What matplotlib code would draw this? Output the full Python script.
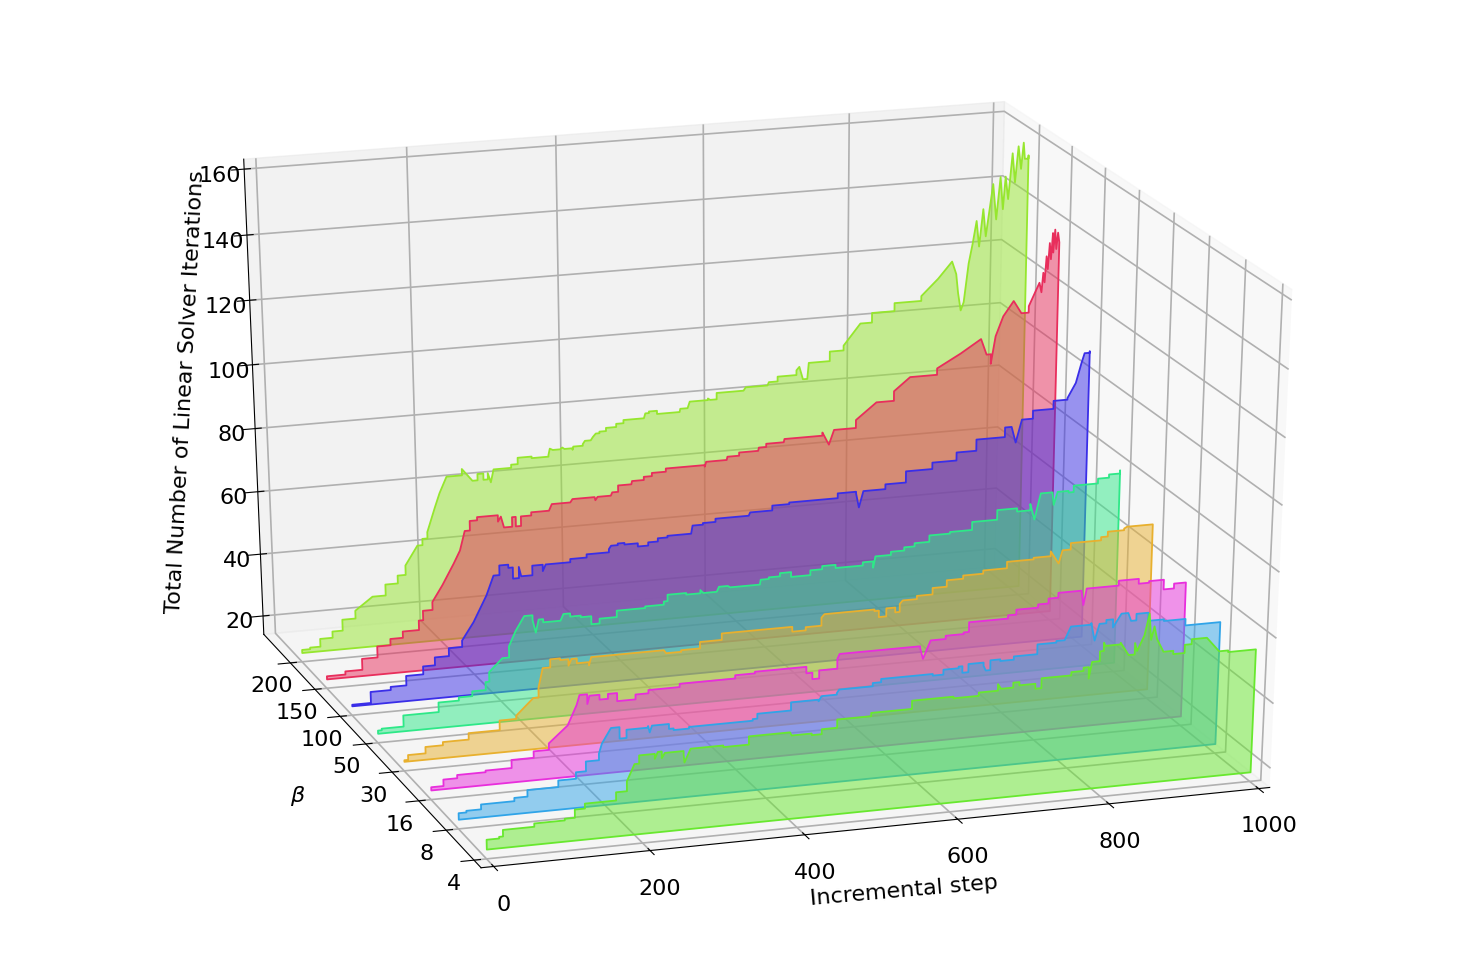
import numpy as np
import matplotlib
matplotlib.use("Agg")
import matplotlib.pyplot as plt
from matplotlib.collections import PolyCollection
from matplotlib.colors import to_rgba

beta_labels = ['4', '8', '16', '30', '50', '100', '150', '200']
colors = ['#68E82E', '#30A4E8', '#E82EDC', '#E8B02E', '#2EE888', '#3A2EE8', '#E82E5C', '#96E62E']

x_b4 = [0,16,21,61,100,113,126,153,166,180,190,196,216,220,225,229,253,254,262,304,337,390,392,418,431,451,495,548,602,635,660,664,680,688,709,717,756,772,779,783,793,798,800,820,831,839,842,851,857,860,864,868,877,890,905,914,934,951,963,1000]
z_b4 = [20,20.5,22.5,23.5,24,26.5,28,28,30.5,33.5,38.5,41,39.5,41.5,39.5,41,40,37.5,41.5,41,43.5,43.5,42.5,42,43.5,46,47,49.5,49,50,52,50.5,52,51,49.5,52.5,53.5,54.5,51,56,59,61.5,60.5,61,57,60.5,58,62.5,69,61,65,61,57,56,58.5,60,60,55.5,55,54]

x_b8 = [0,10,29,72,89,129,152,165,182,186,198,209,218,246,248,251,273,279,299,382,388,415,432,468,472,492,495,539,550,618,632,652,657,665,685,688,694,707,725,756,781,792,800,827,832,838,847,856,867,876,880,887,903,924,953,970,1000]
z_b8 = [19,19.5,21,22,24,26,28,31,33,36,40.5,37,39.5,40,38,40,38.5,38,38.5,39,40.5,40.5,43,42.5,44,44.5,45.5,46.5,47.5,47,48.5,49,47,49.5,48.5,47,50,49.5,50.5,53.5,54,54,58,58.5,53,58,59,56.5,60.5,60.5,58,60,57.5,57,55,55,54.5]

x_b16 = [0,16,34,71,105,134,154,179,191,195,205,208,221,232,244,255,268,285,326,385,399,425,472,493,501,510,534,537,644,648,658,678,702,709,761,772,801,815,828,859,862,866,909,925,936,950,962,970,984,1000]
z_b16 = [18,20,21,21.5,24,26,28,33,39,42,39,41.5,40,41.5,39,39,40.5,41.5,42.5,42.5,43.5,44,44,42,40,42.5,45.5,47,46.5,43,48.5,49.5,50,53,54,55.5,56.5,58,59.5,59.5,55,60,61.5,61.5,60,60.5,60.5,57.5,59,58]

x_b30 = [0,5,28,51,85,126,148,171,178,184,194,207,218,222,229,245,248,275,344,347,367,392,421,505,515,533,554,558,625,631,641,653,659,663,682,703,722,744,771,803,839,862,873,878,889,906,930,939,961,965,1000]
z_b30 = [17.5,19,21,22,24,27,28,33,36,42,44.5,44,42,44,42.5,41.5,44,44,44,43,43.5,45.5,47.5,47.5,46,47,49.5,50.5,50,48,50.5,49,51.5,52.5,53.5,55.5,57.5,58.5,59.5,61.5,62,63.5,59.5,63.5,65.5,65.5,66.5,68,68.5,69,68]

x_b50 = [0,5,34,74,81,108,126,144,149,167,176,185,197,208,212,216,222,245,249,258,272,286,297,320,358,383,388,413,432,436,454,457,469,472,512,513,524,539,554,580,596,614,651,665,668,689,707,721,741,769,799,819,833,860,878,884,892,908,910,915,930,937,970,985,1000]
z_b50 = [18,18.5,22,22,25,26,27.5,30,33,37,40.5,45,49.5,48,44,48,47,47,49,48,47.5,45,46.5,48.5,49,50,52,51.5,52.5,51.5,51.5,53,53,52.5,52.5,54,54.5,55.5,54,55.5,56.5,55.5,56.5,54.5,58,59,60,61,63,63.5,66,66,69,68,70,65,73,73,69,73,72.5,74.5,76,77,78]

x_b100 = [0,25,52,73,96,112,131,149,165,183,193,201,213,219,227,230,245,259,263,296,318,348,351,360,369,387,401,414,427,459,461,475,492,537,539,569,592,658,683,687,693,723,751,787,820,847,886,895,901,909,924,952,971,982,989,993,1000]
z_b100 = [17.5,21,22,25,27.5,30,32.5,34.5,40,48,54,57,56,52.5,56,53,56,54,56,57,58,59,60,60.5,60,59,60,61,61.5,61.5,64,64.5,65.5,65.5,66.5,68,68.5,70,69.5,65,70,71.5,75,77,79.5,83,86,86,81,88,90.5,93,93.5,98,104,107,107.5]

x_b150 = [0,25,48,69,87,104,126,132,145,159,175,184,191,198,208,230,236,240,244,255,260,267,281,305,309,334,337,367,368,371,389,391,399,417,418,434,445,464,517,519,547,548,564,590,591,601,625,626,641,678,687,694,724,752,776,798,835,867,895,903,909,915,925,939,950,960,974,977,979,981,983,985,987,989,991,992,994,996,998,1000]
z_b150 = [18,19,22.5,26,28,30,33,36,38.5,43.5,50,54,60,63,64,64,62,63.5,60,63,60,63,64,64,66,66,67,67,66,67,67,68,70,70,71,72,73,74,73.5,75,75,76,77,77,78,79,79,80,80,81,77,81.5,84,89,92,96,98,102,106,101,98,106.5,112.5,117,113,115,122,119,125,122,130,126,134,129,137,131,138,132,137,134]

x_b200 = [0,11,25,42,56,74,98,116,133,144,161,168,175,186,193,203,224,238,245,253,259,263,267,291,300,319,342,344,348,358,361,364,375,376,389,392,400,403,407,412,421,435,445,473,475,480,491,522,523,533,536,550,561,564,573,610,613,643,645,657,683,687,692,698,700,729,748,771,787,818,855,878,897,903,906,910,914,917,920,925,930,934,939,943,952,957,962,966,969,973,978,982,986,990,993,995,1000]
z_b200 = [18,18.5,21,23,26.5,29,33,36.5,39,42,48,50,52,59.5,64,69,71,67,69,67,69,66,70,71,73,72.5,73,75,74.5,74.5,75,74.5,74,75,75.5,76.5,76.5,77.5,78.5,79,80,81,82,82,83.5,84,83,83,84,84,86,86,86.5,86,88,88,89,89,90,91.5,93,94,90,90,95,98,99.5,106,109,111.5,113,118,123,119,113,107.5,110,116,122,128,135,127,138.5,130,146,135,148,138,148,141,155,146,157,150,158,153,154]

series = [(x_b4,z_b4),(x_b8,z_b8),(x_b16,z_b16),(x_b30,z_b30),(x_b50,z_b50),(x_b100,z_b100),(x_b150,z_b150),(x_b200,z_b200)]
z_floor_of_polys = 17

def outline(xs, zs):
    assert len(xs) == len(zs), (len(xs), len(zs))
    pts = [(xs[0], z_floor_of_polys), (xs[0], zs[0])]
    for i in range(1, len(xs)):
        if abs(zs[i]-zs[i-1]) <= 3.6 and xs[i]-xs[i-1] > 4:
            pts.append((xs[i], zs[i-1]))
        pts.append((xs[i], zs[i]))
    pts.append((xs[-1], z_floor_of_polys))
    return pts

W, H = 1472, 971
fig = plt.figure(figsize=(W/100, H/100), dpi=100)
ax = fig.add_axes([0, 0, 1, 1], projection='3d', computed_zorder=False)
ax.apply_aspect = lambda position=None: None
ax.set_position([-21/W, -7/H, 1506/W, 988/H])
ax.set_box_aspect((1, 1, 1), zoom=0.909)

for i, (xs, zs) in enumerate(series):
    poly = PolyCollection([outline(xs, zs)], facecolors=[to_rgba(colors[i], 0.5)],
                          edgecolors=[colors[i]], linewidths=1.3, zorder=10-i)
    ax.add_collection3d(poly, zs=i, zdir='y')

ax.set_xlim(-16, 1015)
ax.set_ylim(-0.25, 8.1)
ax.set_zlim(14, 163)
ax.set_xticks([0,200,400,600,800,1000])
ax.set_yticks(range(8))
ax.set_yticklabels(beta_labels)
ax.set_zticks(range(20,161,20))
ax.tick_params(labelsize=16)
ax.tick_params(axis='x', pad=10)
ax.xaxis.set_rotate_label(False)
ax.yaxis.set_rotate_label(False)
ax.zaxis.set_rotate_label(False)
ax.set_xlabel('Incremental step', fontsize=16, labelpad=20, rotation=5)
ax.set_ylabel(r'$\beta$', fontsize=16, labelpad=22, rotation=0)
ax.set_zlabel('Total Number of Linear Solver Iterations', fontsize=16, labelpad=12, rotation=87)
ax.view_init(elev=24.5, azim=-108)
for a in (ax.xaxis, ax.yaxis, ax.zaxis):
    a._axinfo['grid']['linewidth'] = 1.2
fig.savefig('out.png', dpi=100)
